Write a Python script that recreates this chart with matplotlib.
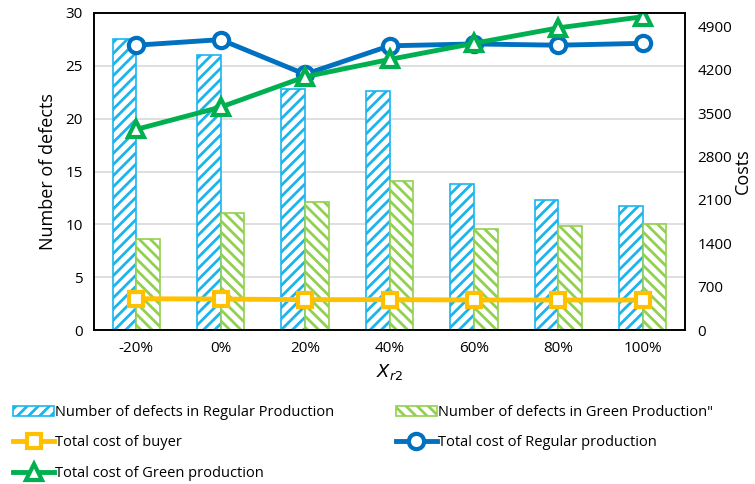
import matplotlib
matplotlib.use("Agg")
import matplotlib.pyplot as plt
import numpy as np

plt.rcParams['font.family'] = ['Open Sans', 'DejaVu Sans']
plt.rcParams['hatch.linewidth'] = 2.0

categories = ['-20%', '0%', '20%', '40%', '60%', '80%', '100%']
defects_regular = [27.5, 26.0, 22.8, 22.6, 13.8, 12.3, 11.7]
defects_green = [8.6, 11.1, 12.1, 14.1, 9.6, 9.8, 10.0]
cost_buyer = [505, 500, 490, 490, 485, 485, 485]
cost_regular = [4600, 4690, 4130, 4590, 4620, 4600, 4630]
cost_green = [3240, 3600, 4090, 4370, 4630, 4880, 5060]

fig = plt.figure(figsize=(7.55, 4.84), dpi=100)
ax = fig.add_axes([94/755, 1-330/484, 591/755, 317/484])
ax2 = ax.twinx()

x = np.arange(len(categories))
w = 0.28
b1 = ax.bar(x - w/2, defects_regular, w, facecolor='white', edgecolor='#1CB4EC',
            hatch='///', linewidth=1.2, label='Number of defects in Regular Production')
b2 = ax.bar(x + w/2, defects_green, w, facecolor='white', edgecolor='#92D050',
            hatch='\\\\\\', linewidth=1.2, label='Number of defects in Green Production"')

ax.set_xlim(-0.5, len(categories) - 0.5)
ax.set_ylim(0, 30)
ax.set_yticks(range(0, 31, 5))
ax.set_xticks(x)
ax.set_xticklabels(categories)
ax.yaxis.grid(True, color='#D9D9D9', linewidth=1.2)
ax.set_axisbelow(True)
ax.tick_params(axis='both', length=0, labelsize=11, pad=8)
ax.set_ylabel('Number of defects', fontsize=13, labelpad=6)
ax.set_xlabel(r'$X_{r2}$', fontsize=13, labelpad=4)

lb, = ax2.plot(x, cost_buyer, color='#FFC000', linewidth=3.5, marker='s', markersize=10,
               markerfacecolor='white', markeredgewidth=3, label='Total cost of buyer')
lr, = ax2.plot(x, cost_regular, color='#0070C0', linewidth=3.5, marker='o', markersize=11,
               markerfacecolor='white', markeredgewidth=3, label='Total cost of Regular production')
lg, = ax2.plot(x, cost_green, color='#00B050', linewidth=3.5, marker='^', markersize=11,
               markerfacecolor='white', markeredgewidth=3, label='Total cost of Green production')
ax2.set_ylim(0, 5120)
ax2.set_yticks(range(0, 4901, 700))
ax2.tick_params(axis='y', length=0, labelsize=11, pad=9)
ax2.set_ylabel('Costs', fontsize=13, labelpad=1)

for a in (ax, ax2):
    for s in a.spines.values():
        s.set_color('black')
        s.set_linewidth(1.2)

handles = [b1, lb, lg, b2, lr]
labels = [h.get_label() for h in handles]
fig.legend(handles, labels, ncol=2, loc='upper left', bbox_to_anchor=(0.0, 1-392/484),
           frameon=False, fontsize=10.5, handlelength=2.8, handletextpad=0.1,
           columnspacing=4.2, labelspacing=1.05)

fig.savefig('out.png', dpi=100)
